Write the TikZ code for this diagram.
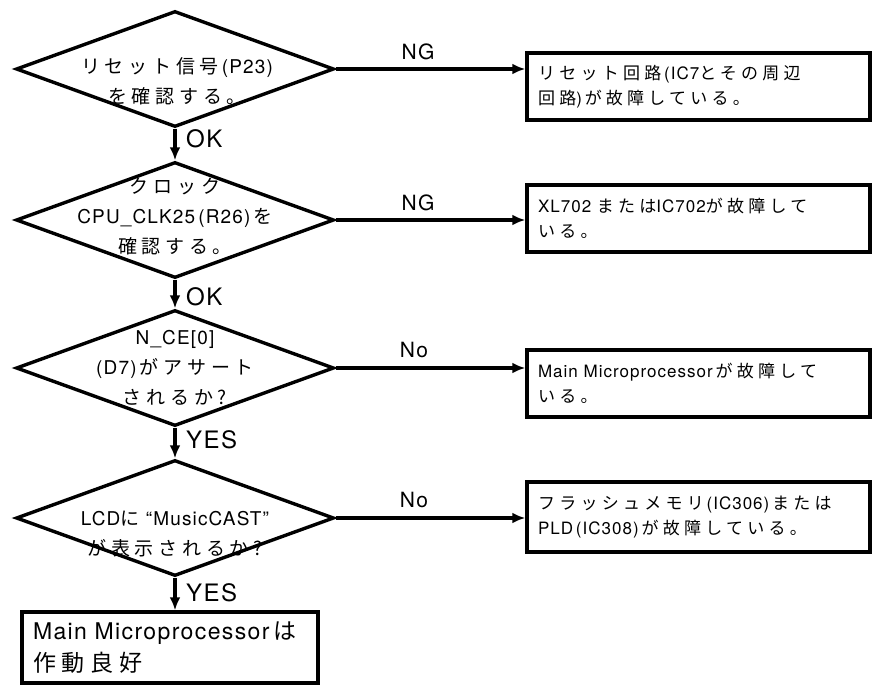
\documentclass[tikz,border=0pt]{standalone}
\usepackage{fontspec}
\setmainfont{TeX Gyre Heros}[LetterSpace=6]
\newfontfamily\jp{Noto Sans CJK JP}[LetterSpace=25]
\usetikzlibrary{shapes.geometric,arrows.meta}
\begin{document}
\begin{tikzpicture}[x=1pt,y=-1pt,
  dia/.style={draw, diamond, line width=3.4pt, minimum width=318pt, minimum height=116pt, inner sep=0pt},
  dtext/.style={align=center, inner sep=0pt, font=\fontsize{19pt}{30pt}\selectfont},
  rbox/.style={draw, rectangle, line width=3.4pt, minimum width=343pt, text width=321pt, inner xsep=11pt, align=left, font=\fontsize{17pt}{25pt}\selectfont},
  fbox/.style={draw, rectangle, line width=3.4pt, minimum width=296pt, text width=274pt, inner xsep=11pt, align=left, font=\fontsize{23pt}{32pt}\selectfont},
  vlab/.style={anchor=west, inner sep=0pt, font=\fontsize{24pt}{24pt}\selectfont},
  hlab/.style={inner sep=0pt, font=\fontsize{21pt}{21pt}\selectfont},
  arr/.style={line width=3.2pt, -{Latex[length=13pt,width=11pt]}}
]
\useasboundingbox (0,0) rectangle (877,686);
% diamonds
\node[dia] (d1) at (175,69) {};
\node[dia] (d2) at (175,220) {};
\node[dia] (d3) at (175,368) {};
\node[dia] (d4) at (175,518) {};
% diamond texts
\node[dtext] (t1) at (177,81) {{\jp リセット信号}\,(P23)\\{\jp を確認する。}};
\node[dtext] (t2) at (175,217) {{\jp クロック}\\CPU\_CLK25\,(R26)\,{\jp を}\\{\jp 確認する。}};
\node[dtext] (t3) at (175,368) {N\_CE[0]\\(D7)\,{\jp がアサート}\\{\jp されるか?}};
\node[dtext] (t4) at (175,534) {LCD{\jp に} “MusicCAST”\\{\jp が表示されるか?}};
% right boxes
\node[rbox, minimum height=67pt] (b1) at (698.5,86.5) {{\jp リセット回路}\,(IC7{\jp とその周辺}\\{\jp 回路})\,{\jp が故障している。}};
\node[rbox, minimum height=67pt] (b2) at (698.5,218.5) {XL702 {\jp または}IC702{\jp が故障して}\\{\jp いる。}};
\node[rbox, minimum height=67pt] (b3) at (698.5,383.5) {Main Microprocessor\,{\jp が故障して}\\{\jp いる。}};
\node[rbox, minimum height=70pt] (b4) at (698.5,517) {{\jp フラッシュメモリ}\,(IC306)\,{\jp または}\\PLD\,(IC308)\,{\jp が故障している。}};
% final box
\node[fbox, minimum height=71pt] (fb) at (170,647.5) {Main Microprocessor\,{\jp は}\\{\jp 作動良好}};
% vertical arrows
\draw[arr] (d1.south) -- (d2.north);
\draw[arr] (d2.south) -- (d3.north);
\draw[arr] (d3.south) -- (d4.north);
\draw[arr] (d4.south) -- (fb.north -| d4.south);
% horizontal arrows
\draw[arr] (d1.east) -- (d1.east -| b1.west);
\draw[arr] (d2.east) -- (d2.east -| b2.west);
\draw[arr] (d3.east) -- (d3.east -| b3.west);
\draw[arr] (d4.east) -- (d4.east -| b4.west);
% labels
\node[vlab] (ok1) at (186,139) {OK};
\node[vlab] (ok2) at (186,297) {OK};
\node[vlab] (yes1) at (186,440) {YES};
\node[vlab] (yes2) at (186,593) {YES};
\node[hlab] (ng1) at (418,52) {NG};
\node[hlab] (ng2) at (418,203) {NG};
\node[hlab] (no1) at (414,350) {No};
\node[hlab] (no2) at (414,500) {No};
\end{tikzpicture}
\end{document}
